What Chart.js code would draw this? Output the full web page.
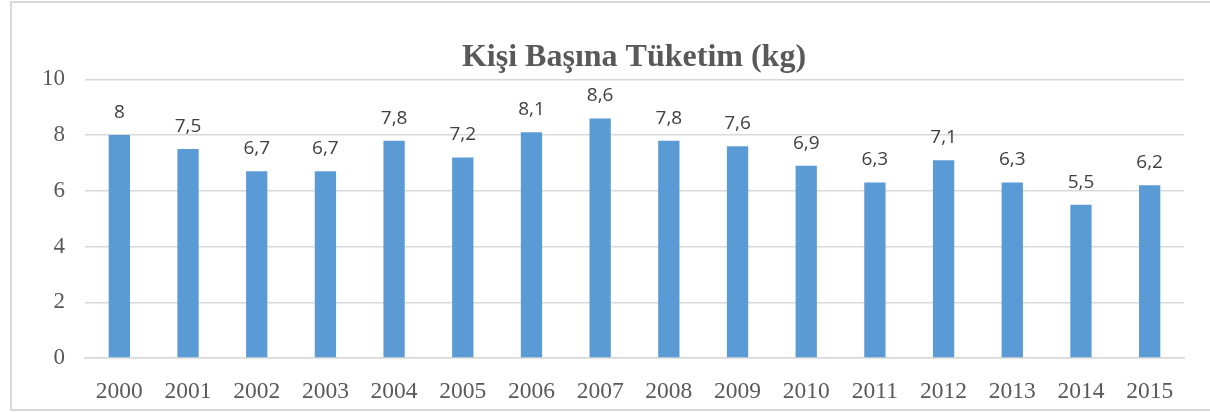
<!DOCTYPE html>
<html>
<head>
<meta charset="utf-8">
<script src="https://cdn.jsdelivr.net/npm/chart.js@4"></script>
<style>
  body { margin: 0; background: #fff; }
  #wrap { width: 1210px; height: 412px; position: relative; }
</style>
</head>
<body>
<div id="wrap"><canvas id="barChart" width="1210" height="412"></canvas></div>
<script>
// veriler
var yillar = ['2000', '2001', '2002', '2003', '2004', '2005', '2006', '2007',
              '2008', '2009', '2010', '2011', '2012', '2013', '2014', '2015'];
var tuketim = [8, 7.5, 6.7, 6.7, 7.8, 7.2, 8.1, 8.6, 7.8, 7.6, 6.9, 6.3, 7.1, 6.3, 5.5, 6.2];
var yEksen = [0, 2, 4, 6, 8, 10];

// cerceve
var cercevePlugin = {
    id: 'cerceve',
    beforeDraw: function (chart) {
        var ctx = chart.ctx;
        ctx.save();
        ctx.strokeStyle = '#d9d9d9';
        ctx.lineWidth = 2;
        ctx.strokeRect(11, 2, 1220, 408);
        ctx.restore();
    },
    // baslik biraz saga kayik
    afterLayout: function (chart) {
        if (chart.titleBlock) {
            chart.titleBlock.left += 84;
        }
    }
};

// bar ustu degerler
var etiketPlugin = {
    id: 'etiketler',
    afterDatasetsDraw: function (chart) {
        var ctx = chart.ctx;
        var meta = chart.getDatasetMeta(0);
        ctx.save();
        ctx.font = '19px "Open Sans", "Noto Sans", sans-serif';
        ctx.fillStyle = '#404040';
        ctx.textAlign = 'center';
        ctx.textBaseline = 'bottom';
        meta.data.forEach(function (bar, i) {
            var txt = String(tuketim[i]).replace('.', ',');
            ctx.fillText(txt, bar.x, bar.y - 13);
        });
        ctx.restore();
    }
};

var ctx = document.getElementById('barChart');
var myChart = new Chart(ctx, {
    type: 'bar',
    data: {
        labels: yillar,
        datasets: [{
            label: 'Tüketim',
            data: tuketim,
            backgroundColor: '#5b9bd5',
            borderWidth: 0,
            categoryPercentage: 1,
            barPercentage: 0.31
        }]
    },
    options: {
        responsive: false,
        animation: false,
        devicePixelRatio: 1,
        layout: { padding: { left: 0, right: 26, top: 4, bottom: 0 } },
        plugins: {
            legend: { display: false },
            tooltip: { enabled: false },
            title: {
                display: true,
                text: 'Kişi Başına Tüketim (kg)',
                color: '#595959',
                font: { family: '"Liberation Serif", "Times New Roman", serif', size: 32, weight: 'bold' },
                padding: { top: 35, bottom: 2 }
            }
        },
        scales: {
            x: {
                grid: { display: false },
                border: { color: '#d9d9d9', width: 1.5 },
                ticks: {
                    color: '#595959',
                    font: { family: '"Liberation Serif", "Times New Roman", serif', size: 23.5 },
                    padding: 12,
                    maxRotation: 0,
                    autoSkip: false
                },
                afterFit: function (scale) { scale.height = 54; }
            },
            y: {
                min: yEksen[0],
                max: yEksen[yEksen.length - 1],
                afterBuildTicks: function (scale) {
                    scale.ticks = yEksen.map(function (v) { return { value: v }; });
                },
                grid: { color: '#d9d9d9', lineWidth: 1.5, drawTicks: false },
                border: { display: false },
                ticks: {
                    color: '#595959',
                    font: { family: '"Liberation Serif", "Times New Roman", serif', size: 23 },
                    padding: 20
                },
                afterFit: function (scale) { scale.width = 85; }
            }
        }
    },
    plugins: [cercevePlugin, etiketPlugin]
});
</script>
</body>
</html>
